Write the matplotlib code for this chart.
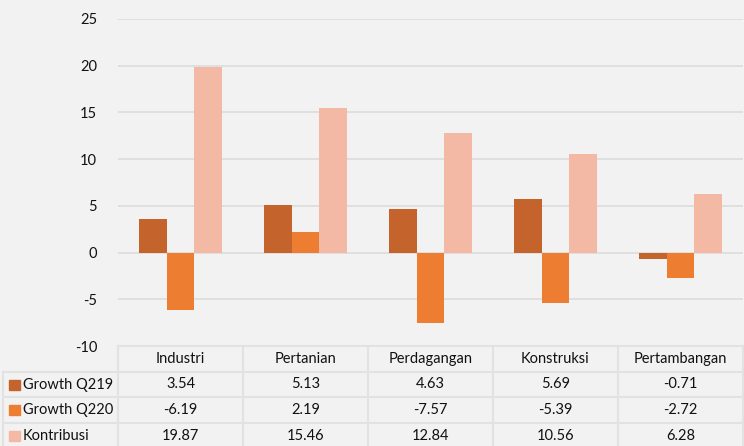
import matplotlib.pyplot as plt
import numpy as np
from matplotlib.lines import Line2D
from matplotlib.patches import Rectangle

plt.rcParams['font.family'] = ['Lato', 'DejaVu Sans']
plt.rcParams['axes.unicode_minus'] = False

categories = ['Industri', 'Pertanian', 'Perdagangan', 'Konstruksi', 'Pertambangan']
series_names = ['Growth Q219', 'Growth Q220', 'Kontribusi']
growth_q219 = [3.54, 5.13, 4.63, 5.69, -0.71]
growth_q220 = [-6.19, 2.19, -7.57, -5.39, -2.72]
kontribusi = [19.87, 15.46, 12.84, 10.56, 6.28]
colors = ['#c4632b', '#ed7d31', '#f4b9a4']

W, H = 744, 446
fig = plt.figure(figsize=(W / 100, H / 100), dpi=100)
fig.patch.set_facecolor('#f2f2f2')

def fx(px):
    return px / W

def fy(py):
    return 1 - py / H

ax_left, ax_right, ax_top, ax_bot = 118, 743, 19, 346
ax = fig.add_axes([fx(ax_left), fy(ax_bot), fx(ax_right - ax_left), fy(ax_top) - fy(ax_bot)])
ax.set_facecolor('none')

x = np.arange(len(categories))
w = 0.22
all_series = [growth_q219, growth_q220, kontribusi]
for i, vals in enumerate(all_series):
    ax.bar(x + (i - 1) * w, vals, width=w, color=colors[i], zorder=3)

ax.set_xlim(-0.5, len(categories) - 0.5)
ax.set_ylim(-10, 25)
ax.set_yticks(range(-10, 26, 5))
ax.set_xticks([])
ax.grid(axis='y', color='#dcdcdc', linewidth=1.2, zorder=0)
for s in ax.spines.values():
    s.set_visible(False)
ax.tick_params(axis='y', length=0, pad=15, labelsize=10.5, labelcolor='#111111')

# data table below the chart
row_tops = [346, 372, 397, 423, 449]
col_edges = [118, 243, 368, 493, 618, 743]
line_col = '#e2e2e2'

def hline(y, x0, x1):
    fig.add_artist(Line2D([fx(x0), fx(x1)], [fy(y), fy(y)], color=line_col, lw=1.5, transform=fig.transFigure))

def vline(xp, y0, y1):
    fig.add_artist(Line2D([fx(xp), fx(xp)], [fy(y0), fy(y1)], color=line_col, lw=1.5, transform=fig.transFigure))

hline(row_tops[0], col_edges[0], col_edges[-1])
for y in row_tops[1:]:
    hline(y, 3, col_edges[-1])
for xp in col_edges:
    vline(xp, row_tops[0], H)
vline(3, row_tops[1], H)

for j, cat in enumerate(categories):
    cx = (col_edges[j] + col_edges[j + 1]) / 2
    cy = (row_tops[0] + row_tops[1]) / 2
    fig.text(fx(cx), fy(cy), cat, ha='center', va='center', fontsize=10.5, color='#111111')

for i, vals in enumerate(all_series):
    cy = (row_tops[i + 1] + row_tops[i + 2]) / 2
    fig.add_artist(Rectangle((fx(9), fy(cy + 5)), fx(11), fy(cy - 5) - fy(cy + 5),
                             color=colors[i], transform=fig.transFigure))
    fig.text(fx(23), fy(cy), series_names[i], ha='left', va='center', fontsize=10.5, color='#111111')
    for j, v in enumerate(vals):
        cx = (col_edges[j] + col_edges[j + 1]) / 2
        fig.text(fx(cx), fy(cy), f'{v:.2f}', ha='center', va='center', fontsize=10.5, color='#111111')

fig.savefig('out.png', dpi=100, facecolor=fig.get_facecolor())
